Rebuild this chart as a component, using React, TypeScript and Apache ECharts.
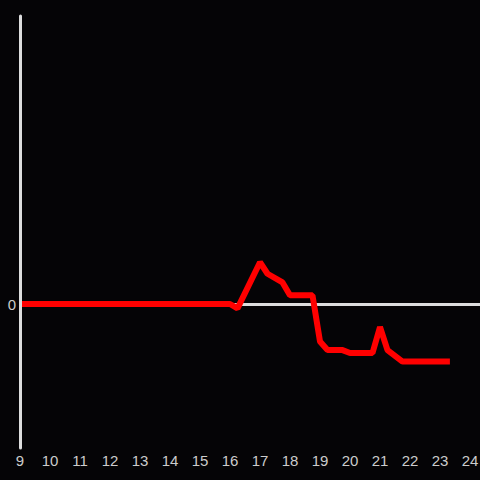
import React, { useEffect, useRef } from "react";
import * as echarts from "echarts";

const hours = [9, 16, 16.25, 17, 17.25, 17.75, 18, 18.75, 19, 19.25, 19.75, 20, 20.75, 21, 21.25, 21.75, 23.33];
const values = [0, 0, -3, 29, 21, 15, 6, 6, -26, -32, -32, -34, -34, -16, -32, -40, -40];
const xTicks = [9, 10, 11, 12, 13, 14, 15, 16, 17, 18, 19, 20, 21, 22, 23, 24];

export default function App() {
  const ref = useRef<HTMLDivElement>(null);
  useEffect(() => {
    if (!ref.current) return;
    const chart = echarts.init(ref.current, null, { renderer: "svg" });
    chart.setOption({
      animation: false,
      backgroundColor: "#050406",
      grid: { left: 20, right: 0, top: 16, bottom: 32, outerBoundsMode: "none", containLabel: false },
      xAxis: {
        type: "value",
        min: 9,
        max: 24 + 1 / 3,
        interval: 1,
        axisLine: { show: false, onZero: false },
        axisTick: { show: false },
        splitLine: { show: false },
        axisLabel: {
          color: "#cccccc",
          fontSize: 15,
          fontFamily: "Liberation Sans",
          margin: 5,
          formatter: (v: number) => (xTicks.includes(Math.round(v * 1000) / 1000) ? String(v) : ""),
        },
      },
      yAxis: {
        type: "value",
        min: -100,
        max: 200,
        interval: 100,
        z: 10,
        axisLine: { show: true, lineStyle: { color: "#dddddd", width: 3 } },
        axisTick: { show: false },
        splitLine: { show: false },
        axisLabel: {
          color: "#cccccc",
          fontSize: 15,
          fontFamily: "Liberation Sans",
          margin: 4,
          formatter: (v: number) => (v === 0 ? "0" : ""),
        },
      },
      series: [
        {
          type: "line",
          data: hours.map((h, i) => [h, values[i]]),
          showSymbol: false,
          symbol: "none",
          lineStyle: { color: "#ff0000", width: 6 },
          markLine: {
            silent: true,
            symbol: "none",
            label: { show: false },
            lineStyle: { color: "#dddddd", width: 3, type: "solid" },
            data: [{ yAxis: 0 }],
            z: 1,
          },
        },
      ],
    });
    return () => chart.dispose();
  }, []);
  return <div ref={ref} style={{ width: 480, height: 480, position: "fixed", left: 0, top: 0 }} />;
}
